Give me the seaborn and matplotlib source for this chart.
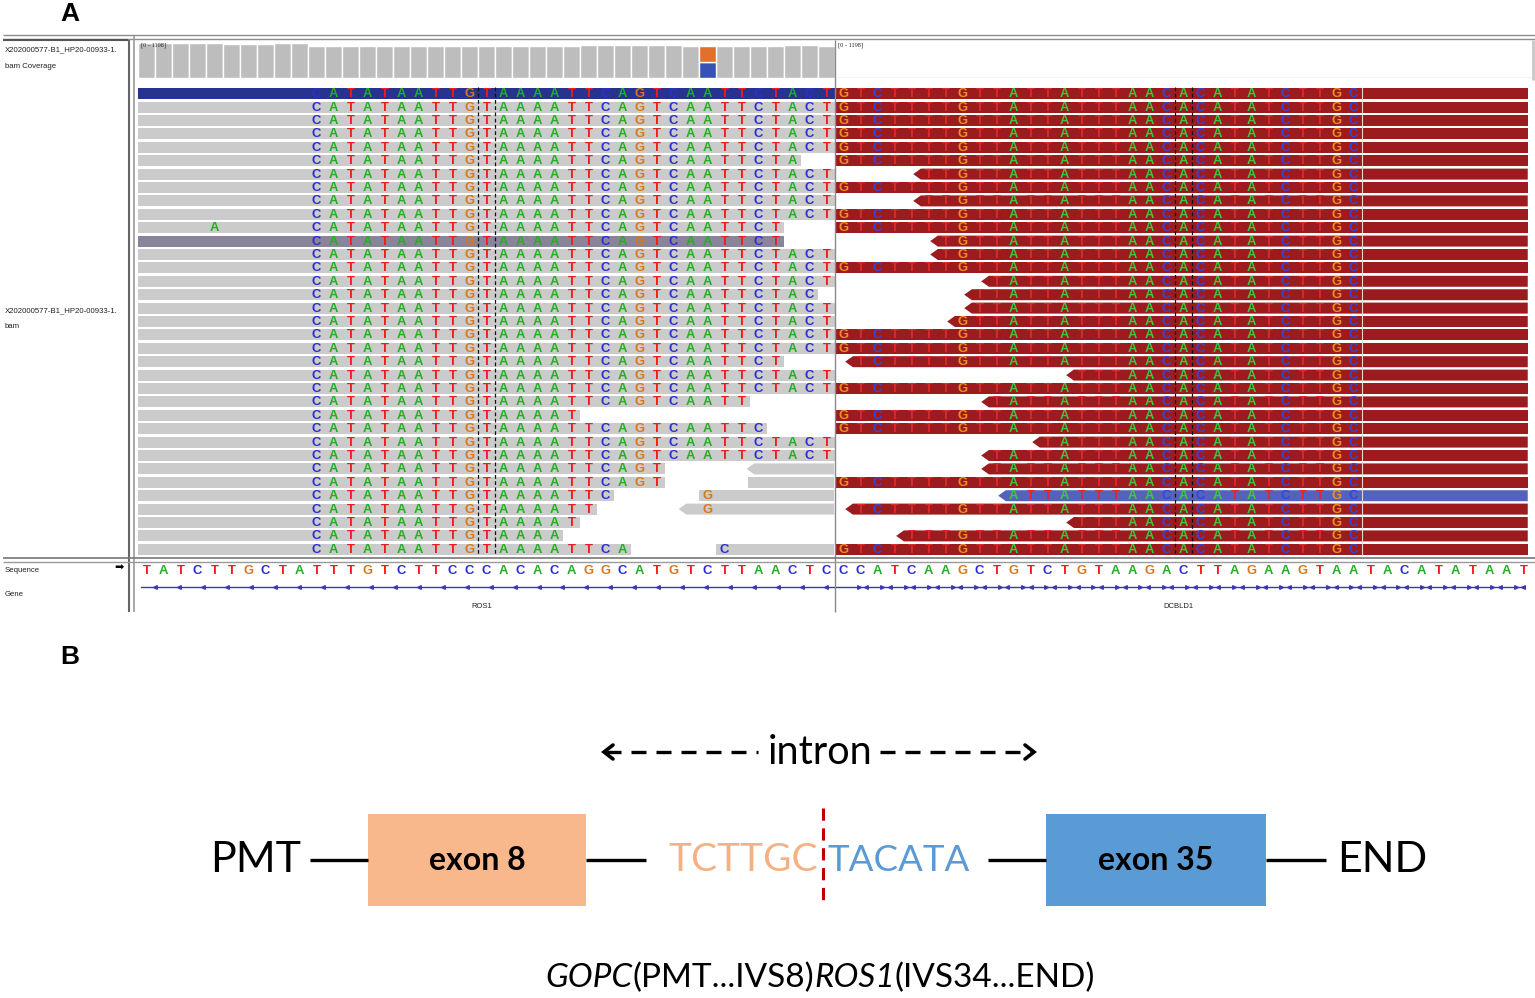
import matplotlib
matplotlib.use("Agg")
import matplotlib.pyplot as plt
import seaborn as sns
import numpy as np
import pandas as pd
from matplotlib.patches import Polygon, Rectangle
from matplotlib import font_manager as fm

# ---------------------------------------------------------------- data
ref_left = "TATCTTGCTATTTGTCTTCCCACACAGGCATGTCTTAACTC"
ref_right = "CCATCAAGCTGTCTGTAAGACTTAGAAGTAATACATATAAT"
clip_left = "CATATAATTGTAAAATTCAGTCAATTCTACT"      # soft-clipped bases shown from base 10
clip_right = "GTCTTTTGTTATTATTTAACACATATCTTGC"     # soft-clipped bases shown from base 0 (right panel)
clip_left_first = 10

left_read_end = [41, 41, 41, 41, 41, 39, 41, 41, 41, 41, 38, 38, 41, 41, 41, 40, 41, 41,
                 41, 41, 38, 41, 41, 36, 26, 37, 41, 41, 31, 31, 28, 27, 26, 25, 29]
left_read_kind = ["sel", "gray", "gray", "gray", "gray", "gray", "gray", "gray", "gray",
                  "gray", "gray", "mq", "gray", "gray", "gray", "gray", "gray", "gray",
                  "gray", "gray", "gray", "gray", "gray", "gray", "gray", "gray", "gray",
                  "gray", "gray", "gray", "gray", "gray", "gray", "gray", "gray"]

right_read_start = [0, 0, 0, 0, 0, 0, 4.6, 0, 4.6, 0, 0, 5.6, 5.6, 0, 8.6, 7.6, 7.6, 6.6,
                    0, 0, 0.6, 13.6, 0, 8.6, 0, 0, 11.6, 8.6, 8.6, 0, 9.6, 0.6, 13.6, 3.6, 0]
right_read_kind = ["red", "red", "red", "red", "red", "red", "red", "red", "red", "red",
                   "red", "red", "red", "red", "red", "red", "red", "red", "red", "red",
                   "red", "red", "red", "red", "red", "red", "red", "red", "red", "red",
                   "blue", "red", "red", "red", "red"]

extra_rows = [28, 29, 30, 31, 34]
extra_start = [35.8, 35.9, 33.0, 31.8, 34.0]
extra_arrow = [True, False, False, True, False]
extra_letter = ["", "", "G", "G", "C"]
extra_letter_base = [0, 0, 33, 33, 34]

mismatch_row = [10]
mismatch_base = [4]
mismatch_letter = ["A"]

coverage_left = [35, 35, 35, 35, 35, 34, 34, 34, 35, 35, 32, 32, 32, 32, 32, 32, 32, 32,
                 32, 32, 32, 32, 32, 32, 32, 32, 33, 33, 33, 33, 33, 33, 32, 32, 32, 32,
                 32, 32, 33, 33, 32]
coverage_right = [0, 0, 0, 0, 0, 0, 0, 0, 0, 0, 0, 0, 0, 0, 0, 0, 0, 0, 0, 0, 0, 0, 0, 0,
                  0, 0, 0, 0, 0, 0, 0, 1.5, 1.5, 1.5, 1.5, 1.5, 1.5, 1.5, 1.5, 1.5, 1.5]
allele_base = 33
allele_counts = {"C": 16, "G": 16}

sample_name = "X202000577-B1_HP20-00933-1."
gene_names = ["ROS1", "DCBLD1"]
range_label = "[0 - 1198]"

partners = ["PMT", "END"]
exon_labels = ["exon 8", "exon 35"]
junction_seq = ["TCTTGC", "TACATA"]
fusion_parts = [("GOPC", "italic"), ("(PMT...IVS8)", "normal"),
                ("ROS1", "italic"), ("(IVS34...END)", "normal")]

# ---------------------------------------------------------------- style
sns.set_theme(style="white")


def has_font(name):
    try:
        fm.findfont(fm.FontProperties(family=name), fallback_to_default=False)
        return True
    except Exception:
        return False


NARROW = "Liberation Sans Narrow" if has_font("Liberation Sans Narrow") else "Liberation Sans"
plt.rcParams["font.family"] = ["DejaVu Sans"]

BASE_COL = {"A": "#22b022", "C": "#2b2fd0", "G": "#d8781a", "T": "#ee1c1c"}
BASE_COL_RED = {"A": "#3cc83c", "C": "#3446d8", "G": "#eb8f22", "T": "#e0282a"}
READ_COL = {"gray": "#cbcbcb", "sel": "#27338f", "mq": "#8a849a",
            "red": "#9b1b1f", "blue": "#5562bb"}

W, H = 1535, 998
fig = plt.figure(figsize=(W / 100, H / 100), dpi=100)


def axes_px(x0, y0, x1, y1, **kw):
    ax = fig.add_axes([x0 / W, 1 - y1 / H, (x1 - x0) / W, (y1 - y0) / H], **kw)
    ax.set_axis_off()
    return ax


NB = len(ref_left) + len(ref_right)  # 82 bases
NL = len(ref_left)
NR = len(left_read_end)

# ---------------------------------------------------------------- coverage track
ax_cov = axes_px(138, 42, 1532, 78)
cov_df = pd.DataFrame({"pos": np.arange(NB) + 0.5,
                       "depth": coverage_left + coverage_right})
sns.barplot(data=cov_df.iloc[:NL], x="pos", y="depth", native_scale=True, width=0.95,
            color="#bdbdbd", saturation=1, errorbar=None, ax=ax_cov)
sns.barplot(data=cov_df.iloc[NL:], x="pos", y="depth", native_scale=True, width=1.0,
            color="#a8a8a8", saturation=1, errorbar=None, ax=ax_cov)
ax_cov.bar(allele_base + 0.5, allele_counts["C"], width=0.95, color="#3653b4")
ax_cov.bar(allele_base + 0.5, allele_counts["G"], bottom=allele_counts["C"], width=0.95,
           color="#e0702a")
ax_cov.set_xlim(0, NB)
ax_cov.set_ylim(0, 36.5)
ax_cov.set_axis_off()
ax_cov.axhline(0, xmin=NL / NB, xmax=1, color="#d0d0d0", lw=1)
ax_cov.text(0.2, 35.5, range_label, fontsize=4.5, va="top", ha="left", color="#222222",
            family="Liberation Serif")
ax_cov.text(NL + 0.2, 35.5, range_label, fontsize=4.5, va="top", ha="left", color="#222222",
            family="Liberation Serif")

# ---------------------------------------------------------------- alignment track
ax_rd = axes_px(138, 87, 1532, 556)
ax_rd.set_xlim(0, NB)
ax_rd.set_ylim(NR, 0)
pad = 0.09
letter_kw = dict(ha="center", va="center", fontsize=9.4, fontweight="bold", family=NARROW)

for r in range(NR):
    # left panel read
    end = left_read_end[r]
    ax_rd.add_patch(Rectangle((0, r + pad), end, 1 - 2 * pad,
                              color=READ_COL[left_read_kind[r]], lw=0))
    for k, ch in enumerate(clip_left):
        b = clip_left_first + k
        if b < end:
            ax_rd.text(b + 0.5, r + 0.53, ch, color=BASE_COL[ch], **letter_kw)
    # right panel read
    s = right_read_start[r]
    x0 = NL + s
    x1 = NB - 0.25
    col = READ_COL[right_read_kind[r]]
    if s == 0:
        ax_rd.add_patch(Rectangle((x0, r + pad), x1 - x0, 1 - 2 * pad, color=col, lw=0))
    else:
        ax_rd.add_patch(Polygon([(x0, r + 0.5), (x0 + 0.45, r + pad), (x1, r + pad),
                                 (x1, r + 1 - pad), (x0 + 0.45, r + 1 - pad)],
                                closed=True, color=col, lw=0))
    for j, ch in enumerate(clip_right):
        if j + 0.5 > s + 0.45:
            ax_rd.text(NL + j + 0.5, r + 0.53, ch, color=BASE_COL_RED[ch], **letter_kw)

# secondary reads in the left panel
for rr, st, arr, ch, bb in zip(extra_rows, extra_start, extra_arrow, extra_letter,
                               extra_letter_base):
    x1 = NL - 0.05
    if arr:
        ax_rd.add_patch(Polygon([(st, rr + 0.5), (st + 0.45, rr + pad), (x1, rr + pad),
                                 (x1, rr + 1 - pad), (st + 0.45, rr + 1 - pad)],
                                closed=True, color=READ_COL["gray"], lw=0))
    else:
        ax_rd.add_patch(Rectangle((st, rr + pad), x1 - st, 1 - 2 * pad,
                                  color=READ_COL["gray"], lw=0))
    if ch:
        ax_rd.text(bb + 0.5, rr + 0.53, ch, color=BASE_COL[ch], **letter_kw)

for rr, bb, ch in zip(mismatch_row, mismatch_base, mismatch_letter):
    ax_rd.text(bb + 0.5, rr + 0.53, ch, color=BASE_COL[ch], **letter_kw)

# read boundary line in the right panel and centre guide lines
ax_rd.vlines(NL + len(clip_right), 0, NR, color="#e8d6d6", lw=0.8)
ax_rd.vlines([20, 21, NL + 20, NL + 21], 0, NR, colors="#111111", lw=0.9,
             linestyles=(0, (3, 2)))

# ---------------------------------------------------------------- sequence track
ax_seq = axes_px(138, 562, 1532, 580)
ax_seq.set_xlim(0, NB)
ax_seq.set_ylim(0, 1)
for i, ch in enumerate(ref_left + ref_right):
    ax_seq.text(i + 0.5, 0.5, ch, color=BASE_COL[ch], ha="center", va="center",
                fontsize=9.4, fontweight="bold", family=NARROW)

# ---------------------------------------------------------------- gene track
ax_gn = axes_px(138, 580, 1532, 614)
ax_gn.set_xlim(0, NB)
ax_gn.set_ylim(34, 0)
ax_gn.plot([0.2, NB - 0.4], [7, 7], color="#3a3aa8", lw=1)
tick_l = np.arange(1.0, NL, 1.41)
tick_r = np.arange(NL + 1.4, NB - 0.8, 1.38)
ax_gn.plot(tick_l, np.full(len(tick_l), 7), ls="none", marker="<", ms=2.6,
           color="#3a3aa8")
ax_gn.plot(tick_r, np.full(len(tick_r), 7), ls="none", marker=">", ms=2.6,
           color="#3a3aa8")
ax_gn.plot(tick_r + 0.45, np.full(len(tick_r), 7), ls="none", marker="<", ms=2.6,
           color="#3a3aa8")
ax_gn.text(NL / 2 - 0.3, 27, gene_names[0], fontsize=5.5, ha="center", va="center",
           color="#222222", family="Liberation Sans")
ax_gn.text(NL + NL / 2 - 0.3, 27, gene_names[1], fontsize=5.5, ha="center", va="center",
           color="#222222", family="Liberation Sans")

# ---------------------------------------------------------------- frame / labels (pixel overlay)
ov = axes_px(0, 0, W, 620)
ov.set_xlim(0, W)
ov.set_ylim(620, 0)
ov.patch.set_alpha(0)
fc = "#8c8c8c"
ov.hlines([34.5, 38.5], 3, W, colors=fc, lw=1)
ov.hlines([40], 3, 128, colors="#555555", lw=1.5)
ov.vlines([128.5], 40, 612, colors="#666666", lw=1.5)
ov.vlines([133.5], 36, 612, colors="#9a9a9a", lw=1.2)
ov.vlines([835], 40, 612, colors="#8a8a8a", lw=1)
ov.hlines([557.5], 3, W, colors="#777777", lw=1.2)
ov.hlines([561.5], 3, W, colors="#9a9a9a", lw=1)
ov.vlines([1532.5], 40, 80, colors="#c8c8c8", lw=2)
lab_kw = dict(fontsize=5.6, family="Liberation Sans", color="#222222", va="center",
              ha="left")
ov.text(5, 50, sample_name, **lab_kw)
ov.text(5, 67, "bam Coverage", **lab_kw)
ov.text(5, 311, sample_name, **lab_kw)
ov.text(5, 326, "bam", **lab_kw)
ov.text(5, 570, "Sequence", **lab_kw)
ov.text(5, 595, "Gene", **lab_kw)
ov.text(119, 568, "\u27a1", fontsize=8, color="black", ha="center", va="center",
        family="DejaVu Sans")
ov.text(70, 14, "A", fontsize=19, fontweight="bold", ha="center", va="center",
        family="Liberation Sans", color="black")

# ---------------------------------------------------------------- panel B diagram
axb = axes_px(0, 620, W, H)
axb.set_xlim(0, W)
axb.set_ylim(H, 620)
axb.text(70, 657, "B", fontsize=19, fontweight="bold", ha="center", va="center",
         family="Liberation Sans", color="black")

yb = 860
big = dict(fontsize=31, family="Lato", va="center", color="black")
axb.text(256, yb, partners[0], ha="center", **big)
axb.text(1382, yb, partners[1], ha="center", **big)
for xa, xb_ in [(310, 368), (586, 646), (988, 1046), (1266, 1326)]:
    axb.plot([xa, xb_], [yb, yb], color="black", lw=2.4, solid_capstyle="butt")
axb.add_patch(Rectangle((368, 814), 218, 92, color="#f8b88b", lw=0))
axb.add_patch(Rectangle((1046, 814), 220, 92, color="#5b9bd5", lw=0))
axb.text(477, yb, exon_labels[0], ha="center", va="center", fontsize=23,
         fontweight="bold", family="Lato", color="black")
axb.text(1156, yb, exon_labels[1], ha="center", va="center", fontsize=23,
         fontweight="bold", family="Lato", color="black")
axb.text(818, yb, junction_seq[0], ha="right", va="center", fontsize=28, family="Lato",
         color="#f4b183")
axb.text(828, yb, junction_seq[1], ha="left", va="center", fontsize=26.5, family="Lato",
         color="#5b9bd5")
axb.plot([823, 823], [808, 906], color="#c00000", lw=2.2, ls=(0, (4, 2.5)))

# intron arrows
yi = 752
axb.text(820, yi, "intron", ha="center", va="center", fontsize=28.5, family="Lato",
         color="black")
axb.plot([606, 758], [yi, yi], color="black", lw=2.4, ls=(0, (4.5, 3)))
axb.plot([880, 1032], [yi, yi], color="black", lw=2.4, ls=(0, (4.5, 3)))
axb.plot([613, 604, 613], [yi - 7, yi, yi + 7], color="black", lw=2.6,
         solid_joinstyle="miter")
axb.plot([1025, 1034, 1025], [yi - 7, yi, yi + 7], color="black", lw=2.6,
         solid_joinstyle="miter")

# fusion name with italic gene symbols, chained and then centred
yf = 978
texts = []
prev = None
for piece, st in fusion_parts:
    kw = dict(fontsize=24, family="Lato", style=st, color="black")
    if prev is None:
        t = axb.text(551, yf, piece, ha="left", va="center", **kw)
    else:
        t = axb.annotate(piece, xy=(1, 0), xycoords=prev, ha="left", va="bottom", **kw)
    texts.append(t)
    prev = t
fig.canvas.draw()
r_ = fig.canvas.get_renderer()
left_px = texts[0].get_window_extent(r_).x0
right_px = texts[-1].get_window_extent(r_).x1
shift = 820 - (left_px + right_px) / 2.0
texts[0].set_x(551 + shift)

fig.savefig("out.png", dpi=100)
